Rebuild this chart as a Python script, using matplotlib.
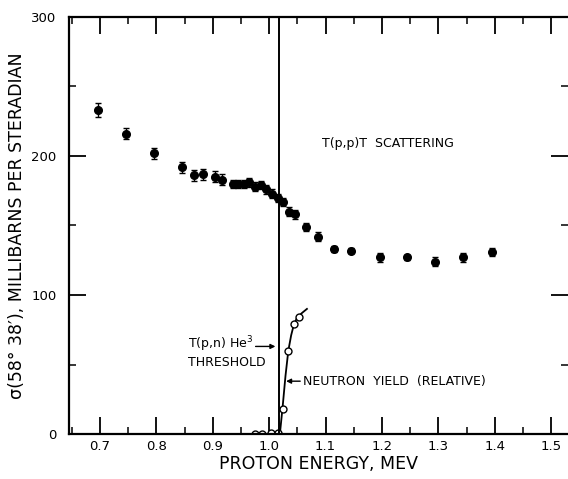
import numpy as np
import matplotlib.pyplot as plt
from matplotlib.ticker import MultipleLocator

# T(p,p)T scattering cross section (filled points)
energy = [0.696, 0.746, 0.796, 0.845, 0.866, 0.882, 0.904, 0.916, 0.935, 0.945,
          0.955, 0.965, 0.975, 0.985, 0.995, 1.005, 1.016, 1.025, 1.036, 1.046,
          1.066, 1.086, 1.115, 1.146, 1.196, 1.245, 1.295, 1.344, 1.395]
sigma = [233, 216, 202, 192, 186, 187, 185, 183, 180, 180,
         180, 181, 178, 179, 176, 173, 170, 167, 160, 158,
         149, 142, 133, 132, 127, 127, 124, 127, 131]
sigma_err = [5, 4, 4, 4, 4, 4, 4, 4, 3, 3,
             3, 3, 3, 3, 3, 3, 3, 3, 3, 3,
             3, 3, 2, 2, 3, 2, 3, 3, 3]

# neutron yield (relative), open points
n_energy = [0.974, 0.988, 1.003, 1.016, 1.024, 1.034, 1.044, 1.053]
n_yield = [0, 0, 1, 1, 18, 60, 79, 84]

# hand-drawn curve through the neutron yield
curve_e = [1.019, 1.021, 1.024, 1.029, 1.034, 1.039, 1.044, 1.050, 1.058, 1.067]
curve_y = [0, 8, 20, 42, 60, 71, 79, 84, 87, 90]

threshold = 1.018

plt.rcParams['font.family'] = ['DejaVu Sans']
fig = plt.figure(figsize=(5.68, 4.79), dpi=100)
ax = fig.add_axes([69 / 568, 45 / 479, 499 / 568, 417 / 479])

ax.errorbar(energy, sigma, yerr=sigma_err, fmt='o', color='black',
            markersize=5.5, capsize=2, elinewidth=1, capthick=1)
ax.plot(curve_e, curve_y, color='black', lw=1.3)
ax.plot(n_energy, n_yield, 'o', mfc='white', mec='black', markersize=5, mew=1)
ax.axvline(threshold, color='black', lw=1.4)

ax.set_xlim(0.645, 1.53)
ax.set_ylim(0, 300)

ax.xaxis.set_minor_locator(MultipleLocator(0.05))
ax.yaxis.set_major_locator(MultipleLocator(100))
ax.yaxis.set_minor_locator(MultipleLocator(50))
ax.set_xticks(np.arange(0.7, 1.51, 0.1))
ax.set_xticklabels(['0.7', '0.8', '0.9', '1.0', '1.1', '1.2', '1.3', '1.4', '1.5'])
ax.tick_params(which='major', direction='in', length=12, width=1.3,
               top=True, right=True, labelsize=9.5)
ax.tick_params(axis='x', which='major', pad=4)
ax.tick_params(axis='y', which='major', pad=9)
ax.tick_params(which='minor', direction='in', length=5, width=1.1,
               top=True, right=True)
ax.spines['right'].set_visible(False)
for s in ['left', 'bottom', 'top']:
    ax.spines[s].set_linewidth(1.6)

ax.set_xlabel('PROTON ENERGY, MEV', fontsize=12.5, labelpad=2)
ax.set_ylabel("σ(58° 38′), MILLIBARNS PER STERADIAN", fontsize=12.5, labelpad=4)

ax.text(1.093, 209, 'T(p,p)T  SCATTERING', fontsize=9, va='center')
ax.text(0.856, 64.5, 'T(p,n) He$^3$', fontsize=9, va='center')
ax.text(0.856, 51.5, 'THRESHOLD', fontsize=9, va='center')
ax.annotate('', xy=(threshold - 0.002, 63), xytext=(0.971, 63),
            arrowprops=dict(arrowstyle='-|>', color='black', lw=1,
                            mutation_scale=7))
ax.annotate('NEUTRON  YIELD  (RELATIVE)', xy=(1.030, 38), xytext=(1.060, 38),
            fontsize=9, va='center',
            arrowprops=dict(arrowstyle='-|>', color='black', lw=1,
                            mutation_scale=7, shrinkA=0, shrinkB=0))

fig.savefig('out.png', dpi=100)
